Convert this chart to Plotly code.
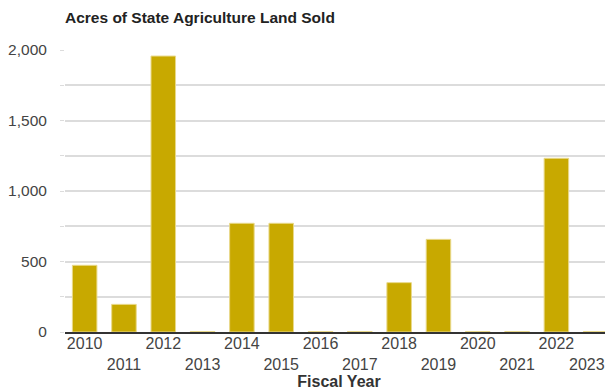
import plotly.graph_objects as go

# Acres of state agriculture land sold, by fiscal year
years = [2010, 2011, 2012, 2013, 2014, 2015, 2016, 2017, 2018, 2019, 2020, 2021, 2022, 2023]
acres = [473, 196, 1957, 3, 771, 771, 3, 3, 350, 657, 3, 3, 1232, 3]

# even years on the first row, odd years pushed to a second row
tick_labels = [str(y) if y % 2 == 0 else "<br>" + str(y) for y in years]
# last label sits at the right edge; nudge it left so it isn't clipped
tick_labels[-1] = tick_labels[-1] + "&nbsp;" * 4

bar_color = "#C8A900"
grid_color = "#dcdcdc"
font_family = "Liberation Sans, Arial, sans-serif"

# page body has an 8px margin, so the figure is sized for the visible area
W, H = 605, 384

fig = go.Figure()

fig.add_trace(go.Bar(
    x=[str(y) for y in years],
    y=acres,
    marker=dict(color=bar_color, line=dict(color="#E9D98A", width=1)),
    hovertemplate="%{x}: %{y:,} acres<extra></extra>",
))

fig.update_layout(
    width=W,
    height=H,
    margin=dict(l=57, r=0, t=42, b=60),
    paper_bgcolor="white",
    plot_bgcolor="white",
    font=dict(family=font_family, size=16, color="#444"),
    title=dict(
        text="<b>Acres of State Agriculture Land Sold</b>",
        x=57 / W, xanchor="left",
        y=1 - 10 / H, yanchor="middle",
        font=dict(size=15.5, color="#222"),
    ),
    bargap=0.376,
    showlegend=False,
)

fig.update_xaxes(
    type="category",
    tickmode="array",
    tickvals=[str(y) for y in years],
    ticktext=tick_labels,
    tickangle=0,
    range=[-0.5, 13.44],
    automargin=False,
    showgrid=False,
    showline=True,
    linecolor="#333",
    linewidth=1.5,
    ticks="",
    ticklabelstandoff=-4,
    ticklabeloverflow="allow",
    tickfont=dict(size=16, color="#444"),
    title=dict(text="<b>Fiscal Year</b>", font=dict(size=16, color="#333"), standoff=0),
)

fig.update_yaxes(
    range=[0, 2000],
    dtick=500,
    tickformat=",",
    automargin=False,
    showgrid=True,
    gridcolor=grid_color,
    gridwidth=2,
    ticks="outside",
    ticklen=4,
    tickcolor=grid_color,
    ticklabelstandoff=10,
    minor=dict(dtick=250, showgrid=True, gridcolor=grid_color, gridwidth=2,
               ticks="outside", ticklen=4, tickcolor=grid_color),
    zeroline=False,
    showline=False,
    tickfont=dict(size=15.5, color="#444"),
)

fig.write_html("out.html")
